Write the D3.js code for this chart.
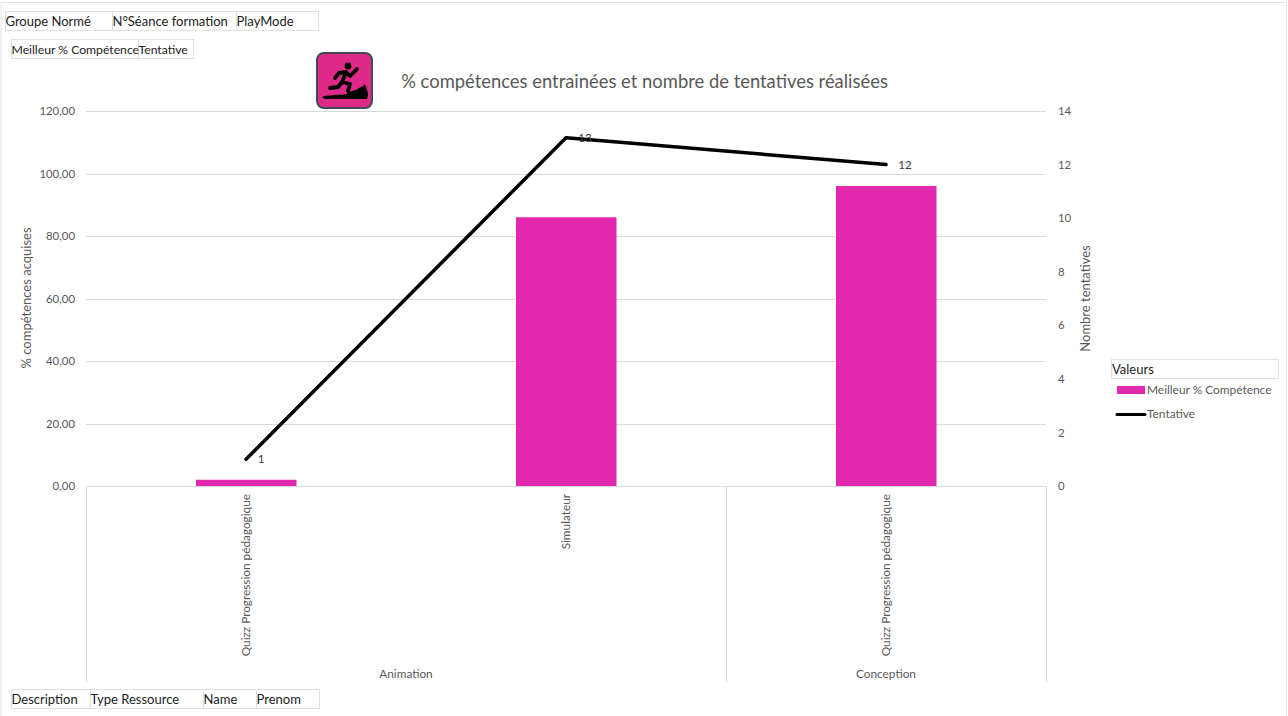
<!DOCTYPE html>
<html>
<head>
<meta charset="utf-8">
<script src="https://cdn.jsdelivr.net/npm/d3@7"></script>
<style>
  body { margin: 0; background: #fff; }
  text { font-family: Lato, "Open Sans", sans-serif; }
</style>
</head>
<body>
<svg id="chart" width="1288" height="716"></svg>
<script>
var categories = ["Quizz Progression pédagogique", "Simulateur", "Quizz Progression pédagogique"];
var groups = [{name: "Animation", span: 2}, {name: "Conception", span: 1}];
var competence = [2, 86, 96];
var tentatives = [1, 13, 12];
var leftTicks = [0, 20, 40, 60, 80, 100, 120];
var rightTicks = [0, 2, 4, 6, 8, 10, 12, 14];
var topFields = ["Groupe Normé", "N°Séance formation", "PlayMode"];
var valueFields = ["Meilleur % Compétence", "Tentative"];
var bottomFields = ["Description", "Type Ressource", "Name", "Prenom"];

var svg = d3.select("#chart");
var grey = "#595959", rule = "#d9d9d9", pink = "#e228ae";
var fr = d3.format(".2f");

var x = d3.scaleBand().domain(d3.range(categories.length)).range([86, 1046]);
var yLeft = d3.scaleLinear().domain([0, 120]).range([486, 111]);
var yRight = d3.scaleLinear().domain([0, 14]).range([486, 111]);

// chart frame, the bottom edge is cut off by the screenshot
svg.append("path").attr("d", "M1,716V2.5H1286.5V716").attr("fill", "none").attr("stroke", "#e4e4e4");

// field buttons of the pivot chart
function fieldButtons(names, edges, top, height, size) {
  names.forEach(function(name, i) {
    svg.append("rect").attr("x", edges[i] + .5).attr("y", top + .5)
      .attr("width", edges[i + 1] - edges[i]).attr("height", height)
      .attr("fill", "#fff").attr("stroke", "#e0e0e0");
  });
  names.forEach(function(name, i) {
    svg.append("text").attr("x", edges[i] + .5).attr("y", top + height / 2 + 5.5)
      .attr("font-size", size).attr("fill", "#222").text(name);
  });
}
fieldButtons(topFields, [5, 112, 236, 318], 11, 19, 13);
fieldButtons(valueFields, [11, 138, 193], 39, 19, 12.2);
fieldButtons(bottomFields, [11, 90, 203, 256, 319], 689, 19, 13);

// grid
svg.append("g").selectAll("line").data(leftTicks).enter().append("line")
  .attr("x1", 86).attr("x2", 1046)
  .attr("y1", function(d) { return Math.round(yLeft(d)) + .5; })
  .attr("y2", function(d) { return Math.round(yLeft(d)) + .5; })
  .attr("stroke", rule);

// left and right axes
var axisL = svg.append("g").attr("transform", "translate(86,0)")
  .call(d3.axisLeft(yLeft).tickValues(leftTicks).tickSize(0).tickPadding(11)
    .tickFormat(function(d) { return fr(d).replace(".", ","); }));
var axisR = svg.append("g").attr("transform", "translate(1046,0)")
  .call(d3.axisRight(yRight).tickValues(rightTicks).tickSize(0).tickPadding(12));
[axisL, axisR].forEach(function(a) {
  a.select(".domain").remove();
  a.selectAll("text").attr("font-size", 11.4).attr("fill", grey)
    .style("font-family", "Lato, sans-serif");
});

// bars
var barWidth = 100.5;
svg.append("g").selectAll("rect").data(competence).enter().append("rect")
  .attr("x", function(d, i) { return x(i) + (x.bandwidth() - barWidth) / 2 + .25; })
  .attr("width", barWidth)
  .attr("y", function(d) { return yLeft(d); })
  .attr("height", function(d) { return yLeft(0) - yLeft(d); })
  .attr("fill", pink);

// two level category axis
x.domain().forEach(function(i) {
  svg.append("text")
    .attr("transform", "translate(" + (x(i) + x.bandwidth() / 2 + 4) + ",494) rotate(-90)")
    .attr("text-anchor", "end").attr("font-size", 11.8).attr("fill", grey)
    .text(categories[i]);
});
var start = 0;
var edges = [0];
groups.forEach(function(g) {
  var from = x(start), to = x(start + g.span - 1) + x.bandwidth();
  svg.append("text").attr("x", (from + to) / 2).attr("y", 678)
    .attr("text-anchor", "middle").attr("font-size", 11.8).attr("fill", grey).text(g.name);
  start += g.span;
  edges.push(start);
});
svg.append("g").selectAll("line").data(edges).enter().append("line")
  .attr("x1", function(d) { return (d < 3 ? x(d) : 1046) + .5; })
  .attr("x2", function(d) { return (d < 3 ? x(d) : 1046) + .5; })
  .attr("y1", 486).attr("y2", 682)
  .attr("stroke", rule);

// line series
var line = d3.line()
  .x(function(d, i) { return x(i) + x.bandwidth() / 2; })
  .y(function(d) { return yRight(d); });
svg.append("path").datum(tentatives).attr("d", line)
  .attr("fill", "none").attr("stroke", "#000").attr("stroke-width", 3.5).attr("stroke-linecap", "round").attr("stroke-linejoin", "round");
svg.append("g").selectAll("text").data(tentatives).enter().append("text")
  .attr("x", function(d, i) { return x(i) + x.bandwidth() / 2 + (d > 9 ? 19 : 15); })
  .attr("y", function(d) { return yRight(d) + 4; })
  .attr("text-anchor", "middle").attr("font-size", 11.6).attr("fill", "#404040")
  .text(function(d) { return d; });

// title
svg.append("text").attr("x", 644.5).attr("y", 88).attr("text-anchor", "middle")
  .attr("font-size", 18.4).attr("fill", grey)
  .text("% compétences entrainées et nombre de tentatives réalisées");

// icon
var icon = svg.append("g").attr("transform", "translate(317,53)");
icon.append("rect").attr("x", 0).attr("y", 0).attr("width", 55).attr("height", 55).attr("rx", 7)
  .attr("fill", "#dc2a86").attr("stroke", "#44485a").attr("stroke-width", 2);
icon.append("path").attr("fill", "#000")
  .attr("d", "M5,44 C9,42 12,43 17,42 C22,41 26,43 31,40 C35,37 39,38 42,35 C45,33 46,34 48,31 C49,35 51,38 51,42 L50,46 L8,46 Z");
icon.append("circle").attr("cx", 31).attr("cy", 13).attr("r", 3.4).attr("fill", "#000");
icon.append("path").attr("fill", "none").attr("stroke", "#000").attr("stroke-width", 3.8)
  .attr("stroke-linejoin", "round").attr("stroke-linecap", "round")
  .attr("d", "M29,19 L25,29 L33,31 L31,38 M25,29 L21,34 L13,35 M29,19 L22,20 L18,25 M29,19 L33,23 L40,16");

// axis titles
svg.append("text").attr("transform", "translate(31,298) rotate(-90)").attr("text-anchor", "middle")
  .attr("font-size", 13).attr("fill", grey).text("% compétences acquises");
svg.append("text").attr("transform", "translate(1090,298.5) rotate(-90)").attr("text-anchor", "middle")
  .attr("font-size", 13).attr("fill", grey).text("Nombre tentatives");

// legend
svg.append("rect").attr("x", 1111.5).attr("y", 359.5).attr("width", 167).attr("height", 19)
  .attr("fill", "#fff").attr("stroke", "#e0e0e0");
svg.append("text").attr("x", 1112).attr("y", 374).attr("font-size", 13).attr("fill", "#222").text("Valeurs");
svg.append("rect").attr("x", 1117).attr("y", 386).attr("width", 28).attr("height", 8).attr("fill", pink);
svg.append("text").attr("x", 1147).attr("y", 394).attr("font-size", 11.9).attr("fill", grey).text(valueFields[0]);
svg.append("line").attr("x1", 1117).attr("x2", 1145).attr("y1", 414.5).attr("y2", 414.5)
  .attr("stroke", "#000").attr("stroke-width", 3).attr("stroke-linecap", "round");
svg.append("text").attr("x", 1147).attr("y", 418).attr("font-size", 11.9).attr("fill", grey).text(valueFields[1]);
</script>
</body>
</html>
